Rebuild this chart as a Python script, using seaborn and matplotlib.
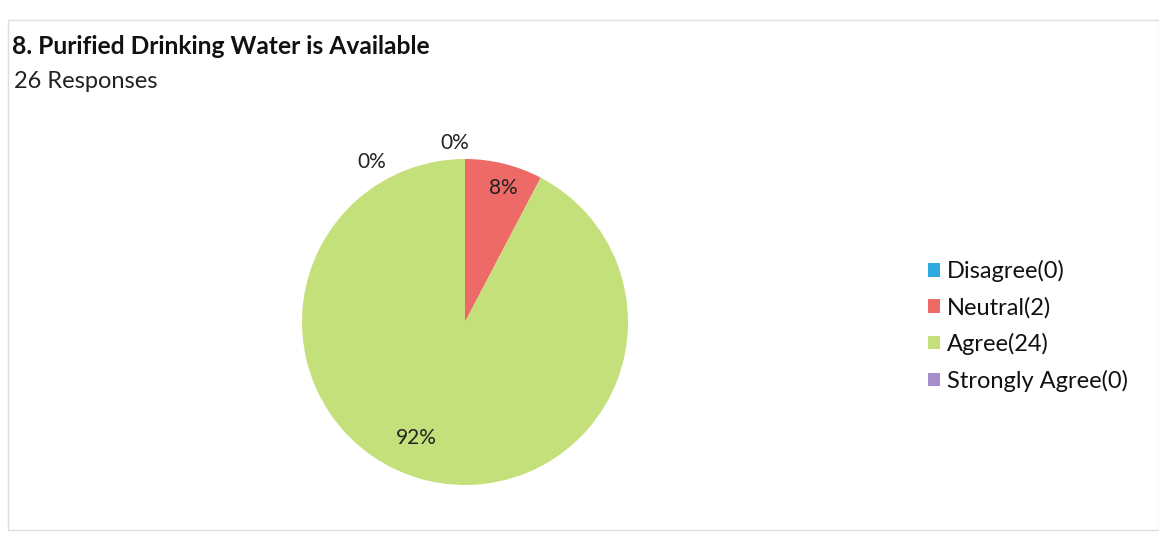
import matplotlib
matplotlib.use("Agg")
import matplotlib.pyplot as plt
from matplotlib.patches import Rectangle
import seaborn as sns
import numpy as np

categories = ["Disagree", "Neutral", "Agree", "Strongly Agree"]
counts = [0, 2, 24, 0]
colors = ["#2EA9E1", "#EE6A66", "#C4E07A", "#A78DCB"]
title = "8. Purified Drinking Water is Available"
subtitle = "26 Responses"

sns.set_theme(style="white")
plt.rcParams['font.family'] = ['Lato', 'DejaVu Sans']

W, H = 1159, 533
fig = plt.figure(figsize=(W / 100, H / 100), dpi=100)
fig.patch.set_facecolor("white")

# chart frame
fig.add_artist(Rectangle((8 / W, 3 / H), (W - 8) / W, (H - 23) / H, transform=fig.transFigure,
                         fill=False, edgecolor="#DDDDDD", linewidth=1.0))

cx, cy, r = 465, 322, 163
half = 1.1 * r
ax = fig.add_axes([(cx - half) / W, (H - cy - half) / H, 2 * half / W, 2 * half / H])

wedges, _ = ax.pie(counts, colors=colors, startangle=90, counterclock=False,
                   radius=1.0, wedgeprops=dict(linewidth=0))
ax.set_xlim(-1.1, 1.1)
ax.set_ylim(-1.1, 1.1)
ax.set_aspect("equal")
ax.axis("off")

total = sum(counts)
pcts = [round(100 * c / total) for c in counts]
# label placement (radius, angle offset in degrees) per slice
label_place = [(1.10, 3.2), (0.855, -2.0), (0.768, -8.8), (1.135, 30.2)]
for w, p, (rad, off) in zip(wedges, pcts, label_place):
    ang = np.deg2rad((w.theta1 + w.theta2) / 2 + off)
    ax.text(rad * np.cos(ang), rad * np.sin(ang), f"{p}%", ha="center", va="center",
            fontsize=15, color="#222222")

handles = [Rectangle((0, 0), 1, 1, facecolor=c, edgecolor="none") for c in colors]
labels = [f"{c}({n})" for c, n in zip(categories, counts)]
fig.legend(handles, labels, loc="center left", bbox_to_anchor=(907 / W, (H - 326) / H),
           frameon=False, fontsize=17, handlelength=0.5, handleheight=0.5,
           handletextpad=0.3, labelspacing=0.62, labelcolor="#111111")

fig.text(12 / W, (H - 47) / H, title, fontsize=17.7, fontweight="bold", color="#111111",
         va="center", ha="left")
fig.text(14 / W, (H - 81) / H, subtitle, fontsize=17, color="#222222", va="center", ha="left")

fig.savefig("out.png", dpi=100, facecolor="white")
